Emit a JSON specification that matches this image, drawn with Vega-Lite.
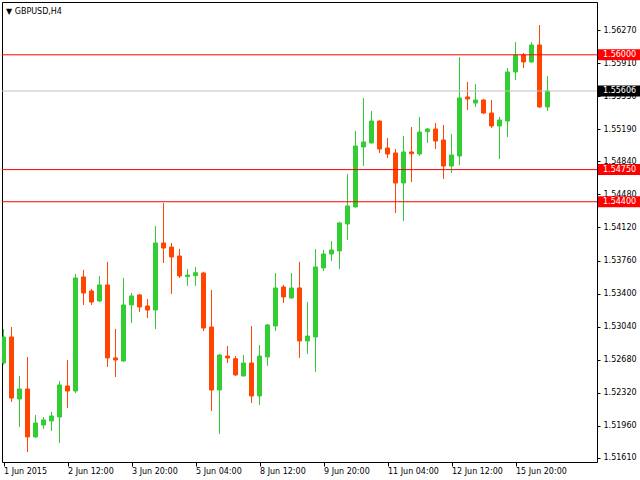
{
  "$schema": "https://vega.github.io/schema/vega-lite/v6.json",
  "width": 595,
  "height": 460,
  "autosize": {"type": "none"},
  "padding": {"left": 2, "top": 2, "right": 43, "bottom": 18},
  "background": "white",
  "config": {
    "view": {"stroke": "black", "strokeWidth": 1},
    "font": "DejaVu Sans",
    "axisX": {"orient": "bottom", "domain": false, "grid": false, "tickSize": 4, "tickColor": "black", "labelAlign": "left", "labelBaseline": "top", "labelPadding": 1, "labelFont": "DejaVu Sans", "labelFontSize": 8, "labelColor": "black", "labelFlush": false, "labelOverlap": false},
    "axisY": {"domain": false, "grid": false, "tickSize": 3, "tickColor": "black", "labelPadding": 3, "labelFont": "DejaVu Sans", "labelFontSize": 8, "labelColor": "black", "labelOverlap": false, "labelFlush": false}
  },
  "datasets": {
    "candles": [
      {"i":0,"open":1.52644,"high":1.53015,"low":1.52623,"close":1.52927},
      {"i":1,"open":1.52927,"high":1.53036,"low":1.52220,"close":1.52263},
      {"i":2,"open":1.52252,"high":1.52503,"low":1.51947,"close":1.52361},
      {"i":3,"open":1.52361,"high":1.52710,"low":1.51675,"close":1.51839},
      {"i":4,"open":1.51839,"high":1.52078,"low":1.51828,"close":1.51991},
      {"i":5,"open":1.51969,"high":1.52056,"low":1.51926,"close":1.52024},
      {"i":6,"open":1.52013,"high":1.52111,"low":1.51904,"close":1.52067},
      {"i":7,"open":1.52056,"high":1.52448,"low":1.51773,"close":1.52405},
      {"i":8,"open":1.52394,"high":1.52677,"low":1.52154,"close":1.52339},
      {"i":9,"open":1.52339,"high":1.53613,"low":1.52318,"close":1.53570},
      {"i":10,"open":1.53581,"high":1.53657,"low":1.53276,"close":1.53406},
      {"i":11,"open":1.53428,"high":1.53450,"low":1.53276,"close":1.53308},
      {"i":12,"open":1.53319,"high":1.53592,"low":1.53308,"close":1.53494},
      {"i":13,"open":1.53494,"high":1.53744,"low":1.52601,"close":1.52699},
      {"i":14,"open":1.52699,"high":1.53015,"low":1.52492,"close":1.52677},
      {"i":15,"open":1.52666,"high":1.53570,"low":1.52655,"close":1.53276},
      {"i":16,"open":1.53276,"high":1.53406,"low":1.53080,"close":1.53374},
      {"i":17,"open":1.53385,"high":1.53396,"low":1.53200,"close":1.53254},
      {"i":18,"open":1.53265,"high":1.53341,"low":1.53134,"close":1.53221},
      {"i":19,"open":1.53221,"high":1.54136,"low":1.53015,"close":1.53951},
      {"i":20,"open":1.53951,"high":1.54386,"low":1.53733,"close":1.53896},
      {"i":21,"open":1.53907,"high":1.53951,"low":1.53396,"close":1.53798},
      {"i":22,"open":1.53809,"high":1.53886,"low":1.53570,"close":1.53592},
      {"i":23,"open":1.53586,"high":1.53668,"low":1.53483,"close":1.53602},
      {"i":24,"open":1.53595,"high":1.53690,"low":1.53483,"close":1.53627},
      {"i":25,"open":1.53624,"high":1.53638,"low":1.52993,"close":1.53025},
      {"i":26,"open":1.53036,"high":1.53439,"low":1.52122,"close":1.52350},
      {"i":27,"open":1.52350,"high":1.52742,"low":1.51871,"close":1.52731},
      {"i":28,"open":1.52720,"high":1.52829,"low":1.52644,"close":1.52699},
      {"i":29,"open":1.52691,"high":1.52720,"low":1.52503,"close":1.52514},
      {"i":30,"open":1.52503,"high":1.52731,"low":1.52498,"close":1.52644},
      {"i":31,"open":1.52644,"high":1.53047,"low":1.52209,"close":1.52285},
      {"i":32,"open":1.52285,"high":1.52840,"low":1.52187,"close":1.52720},
      {"i":33,"open":1.52710,"high":1.53069,"low":1.52612,"close":1.53058},
      {"i":34,"open":1.53047,"high":1.53624,"low":1.52993,"close":1.53461},
      {"i":35,"open":1.53472,"high":1.53494,"low":1.53298,"close":1.53363},
      {"i":36,"open":1.53352,"high":1.53624,"low":1.53345,"close":1.53461},
      {"i":37,"open":1.53461,"high":1.53744,"low":1.52699,"close":1.52884},
      {"i":38,"open":1.52884,"high":1.53308,"low":1.52742,"close":1.52938},
      {"i":39,"open":1.52927,"high":1.53886,"low":1.52546,"close":1.53690},
      {"i":40,"open":1.53679,"high":1.53875,"low":1.53646,"close":1.53831},
      {"i":41,"open":1.53831,"high":1.53973,"low":1.53755,"close":1.53875},
      {"i":42,"open":1.53864,"high":1.54180,"low":1.53668,"close":1.54169},
      {"i":43,"open":1.54158,"high":1.54702,"low":1.53984,"close":1.54354},
      {"i":44,"open":1.54343,"high":1.55170,"low":1.54338,"close":1.55007},
      {"i":45,"open":1.54996,"high":1.55530,"low":1.54789,"close":1.55051},
      {"i":46,"open":1.55040,"high":1.55388,"low":1.55035,"close":1.55279},
      {"i":47,"open":1.55279,"high":1.55285,"low":1.54931,"close":1.54974},
      {"i":48,"open":1.54985,"high":1.55094,"low":1.54876,"close":1.54920},
      {"i":49,"open":1.54931,"high":1.54974,"low":1.54277,"close":1.54604},
      {"i":50,"open":1.54604,"high":1.55116,"low":1.54190,"close":1.54942},
      {"i":51,"open":1.54942,"high":1.55214,"low":1.54615,"close":1.54923},
      {"i":52,"open":1.54920,"high":1.55323,"low":1.54898,"close":1.55159},
      {"i":53,"open":1.55163,"high":1.55203,"low":1.55040,"close":1.55192},
      {"i":54,"open":1.55192,"high":1.55257,"low":1.54974,"close":1.55061},
      {"i":55,"open":1.55072,"high":1.55236,"low":1.54648,"close":1.54789},
      {"i":56,"open":1.54789,"high":1.55138,"low":1.54713,"close":1.54909},
      {"i":57,"open":1.54898,"high":1.55976,"low":1.54800,"close":1.55530},
      {"i":58,"open":1.55541,"high":1.55704,"low":1.55399,"close":1.55519},
      {"i":59,"open":1.55475,"high":1.55682,"low":1.55432,"close":1.55508},
      {"i":60,"open":1.55508,"high":1.55519,"low":1.55355,"close":1.55366},
      {"i":61,"open":1.55366,"high":1.55508,"low":1.55203,"close":1.55225},
      {"i":62,"open":1.55225,"high":1.55323,"low":1.54865,"close":1.55290},
      {"i":63,"open":1.55279,"high":1.55856,"low":1.55105,"close":1.55813},
      {"i":64,"open":1.55813,"high":1.56139,"low":1.55726,"close":1.55998},
      {"i":65,"open":1.55998,"high":1.56020,"low":1.55856,"close":1.55922},
      {"i":66,"open":1.55922,"high":1.56139,"low":1.55911,"close":1.56107},
      {"i":67,"open":1.56107,"high":1.56324,"low":1.55421,"close":1.55432},
      {"i":68,"open":1.55432,"high":1.55769,"low":1.55388,"close":1.55606}
    ],
    "levels": [
      {"price":1.56000,"kind":"level"},
      {"price":1.55606,"kind":"bid"},
      {"price":1.54750,"kind":"level"},
      {"price":1.54400,"kind":"level"}
    ],
    "caption": [{"label":"▼  GBPUSD,H4"}]
  },
  "layer": [
    {
      "data": {"name": "candles"},
      "mark": {"type": "rule", "strokeWidth": 1, "clip": true},
      "encoding": {
        "x": {"field": "i", "type": "quantitative", "title": null, "scale": {"domain": [-0.1875, 74.1875], "nice": false, "zero": false, "padding": 0},
          "axis": {"values": [0, 8, 16, 24, 32, 40, 48, 56, 64], "labelOverlap": false, "labelFlush": false,
            "labelExpr": "['1 Jun 2015','2 Jun 12:00','3 Jun 20:00','5 Jun 04:00','8 Jun 12:00','9 Jun 20:00','11 Jun 04:00','12 Jun 12:00','15 Jun 20:00'][round(datum.value/8)]"}},
        "y": {"field": "low", "type": "quantitative", "title": null, "scale": {"domain": [1.51566, 1.56575], "nice": false, "zero": false, "padding": 0},
          "axis": {"orient": "right", "values": [1.5161, 1.5196, 1.5232, 1.5268, 1.5304, 1.534, 1.5376, 1.5412, 1.5448, 1.5484, 1.5519, 1.5555, 1.5591, 1.5627], "format": ".5f", "labelOverlap": false, "labelFlush": false, "labelBound": false}},
        "y2": {"field": "high"},
        "color": {"condition": {"test": "datum.close >= datum.open", "value": "#32CD32"}, "value": "#FF4500"}
      }
    },
    {
      "data": {"name": "candles"},
      "mark": {"type": "bar", "width": 4, "strokeWidth": 1, "clip": true},
      "encoding": {
        "x": {"field": "i", "type": "quantitative", "title": null,
          "axis": {"values": [0, 8, 16, 24, 32, 40, 48, 56, 64], "labelOverlap": false, "labelFlush": false,
            "labelExpr": "['1 Jun 2015','2 Jun 12:00','3 Jun 20:00','5 Jun 04:00','8 Jun 12:00','9 Jun 20:00','11 Jun 04:00','12 Jun 12:00','15 Jun 20:00'][round(datum.value/8)]"}},
        "y": {"field": "open", "type": "quantitative", "title": null,
          "axis": {"orient": "right", "values": [1.5161, 1.5196, 1.5232, 1.5268, 1.5304, 1.534, 1.5376, 1.5412, 1.5448, 1.5484, 1.5519, 1.5555, 1.5591, 1.5627], "format": ".5f", "labelOverlap": false, "labelFlush": false, "labelBound": false}},
        "y2": {"field": "close"},
        "fill": {"condition": {"test": "datum.close >= datum.open", "value": "#32CD32"}, "value": "#FF4500"},
        "stroke": {"condition": {"test": "datum.close >= datum.open", "value": "#32CD32"}, "value": "#FF4500"}
      }
    },
    {
      "data": {"name": "levels"},
      "mark": {"type": "rule", "strokeWidth": 1},
      "encoding": {
        "y": {"field": "price", "type": "quantitative", "title": null,
          "axis": {"orient": "right", "values": [1.5161, 1.5196, 1.5232, 1.5268, 1.5304, 1.534, 1.5376, 1.5412, 1.5448, 1.5484, 1.5519, 1.5555, 1.5591, 1.5627], "format": ".5f", "labelOverlap": false, "labelFlush": false, "labelBound": false}},
        "color": {"condition": {"test": "datum.kind == 'bid'", "value": "#C0C0C0"}, "value": "#FF0000"}
      }
    },
    {
      "data": {"name": "levels"},
      "mark": {"type": "point", "shape": "M0.1,-0.55H4.3V0.55H0.1Z", "filled": true, "size": 400, "opacity": 1, "clip": false},
      "encoding": {
        "x": {"datum": 74.1875, "type": "quantitative", "title": null,
          "axis": {"values": [0, 8, 16, 24, 32, 40, 48, 56, 64], "labelOverlap": false, "labelFlush": false,
            "labelExpr": "['1 Jun 2015','2 Jun 12:00','3 Jun 20:00','5 Jun 04:00','8 Jun 12:00','9 Jun 20:00','11 Jun 04:00','12 Jun 12:00','15 Jun 20:00'][round(datum.value/8)]"}},
        "y": {"field": "price", "type": "quantitative", "title": null,
          "axis": {"orient": "right", "values": [1.5161, 1.5196, 1.5232, 1.5268, 1.5304, 1.534, 1.5376, 1.5412, 1.5448, 1.5484, 1.5519, 1.5555, 1.5591, 1.5627], "format": ".5f", "labelOverlap": false, "labelFlush": false, "labelBound": false}},
        "color": {"condition": {"test": "datum.kind == 'bid'", "value": "#000000"}, "value": "#FF0000"}
      }
    },
    {
      "data": {"name": "levels"},
      "mark": {"type": "text", "align": "left", "baseline": "middle", "dx": 6, "font": "DejaVu Sans", "fontSize": 8, "color": "white", "clip": false},
      "encoding": {
        "x": {"datum": 74.1875, "type": "quantitative", "title": null,
          "axis": {"values": [0, 8, 16, 24, 32, 40, 48, 56, 64], "labelOverlap": false, "labelFlush": false,
            "labelExpr": "['1 Jun 2015','2 Jun 12:00','3 Jun 20:00','5 Jun 04:00','8 Jun 12:00','9 Jun 20:00','11 Jun 04:00','12 Jun 12:00','15 Jun 20:00'][round(datum.value/8)]"}},
        "y": {"field": "price", "type": "quantitative", "title": null,
          "axis": {"orient": "right", "values": [1.5161, 1.5196, 1.5232, 1.5268, 1.5304, 1.534, 1.5376, 1.5412, 1.5448, 1.5484, 1.5519, 1.5555, 1.5591, 1.5627], "format": ".5f", "labelOverlap": false, "labelFlush": false, "labelBound": false}},
        "text": {"field": "price", "type": "quantitative", "format": ".5f"}
      }
    },
    {
      "data": {"name": "caption"},
      "mark": {"type": "text", "align": "left", "baseline": "top", "dx": 4, "dy": 6, "font": "DejaVu Sans", "fontSize": 8, "color": "black"},
      "encoding": {
        "x": {"datum": -0.1875, "type": "quantitative", "title": null,
          "axis": {"values": [0, 8, 16, 24, 32, 40, 48, 56, 64], "labelOverlap": false, "labelFlush": false,
            "labelExpr": "['1 Jun 2015','2 Jun 12:00','3 Jun 20:00','5 Jun 04:00','8 Jun 12:00','9 Jun 20:00','11 Jun 04:00','12 Jun 12:00','15 Jun 20:00'][round(datum.value/8)]"}},
        "y": {"datum": 1.56575, "type": "quantitative", "title": null,
          "axis": {"orient": "right", "values": [1.5161, 1.5196, 1.5232, 1.5268, 1.5304, 1.534, 1.5376, 1.5412, 1.5448, 1.5484, 1.5519, 1.5555, 1.5591, 1.5627], "format": ".5f", "labelOverlap": false, "labelFlush": false, "labelBound": false}},
        "text": {"field": "label"}
      }
    }
  ]
}
